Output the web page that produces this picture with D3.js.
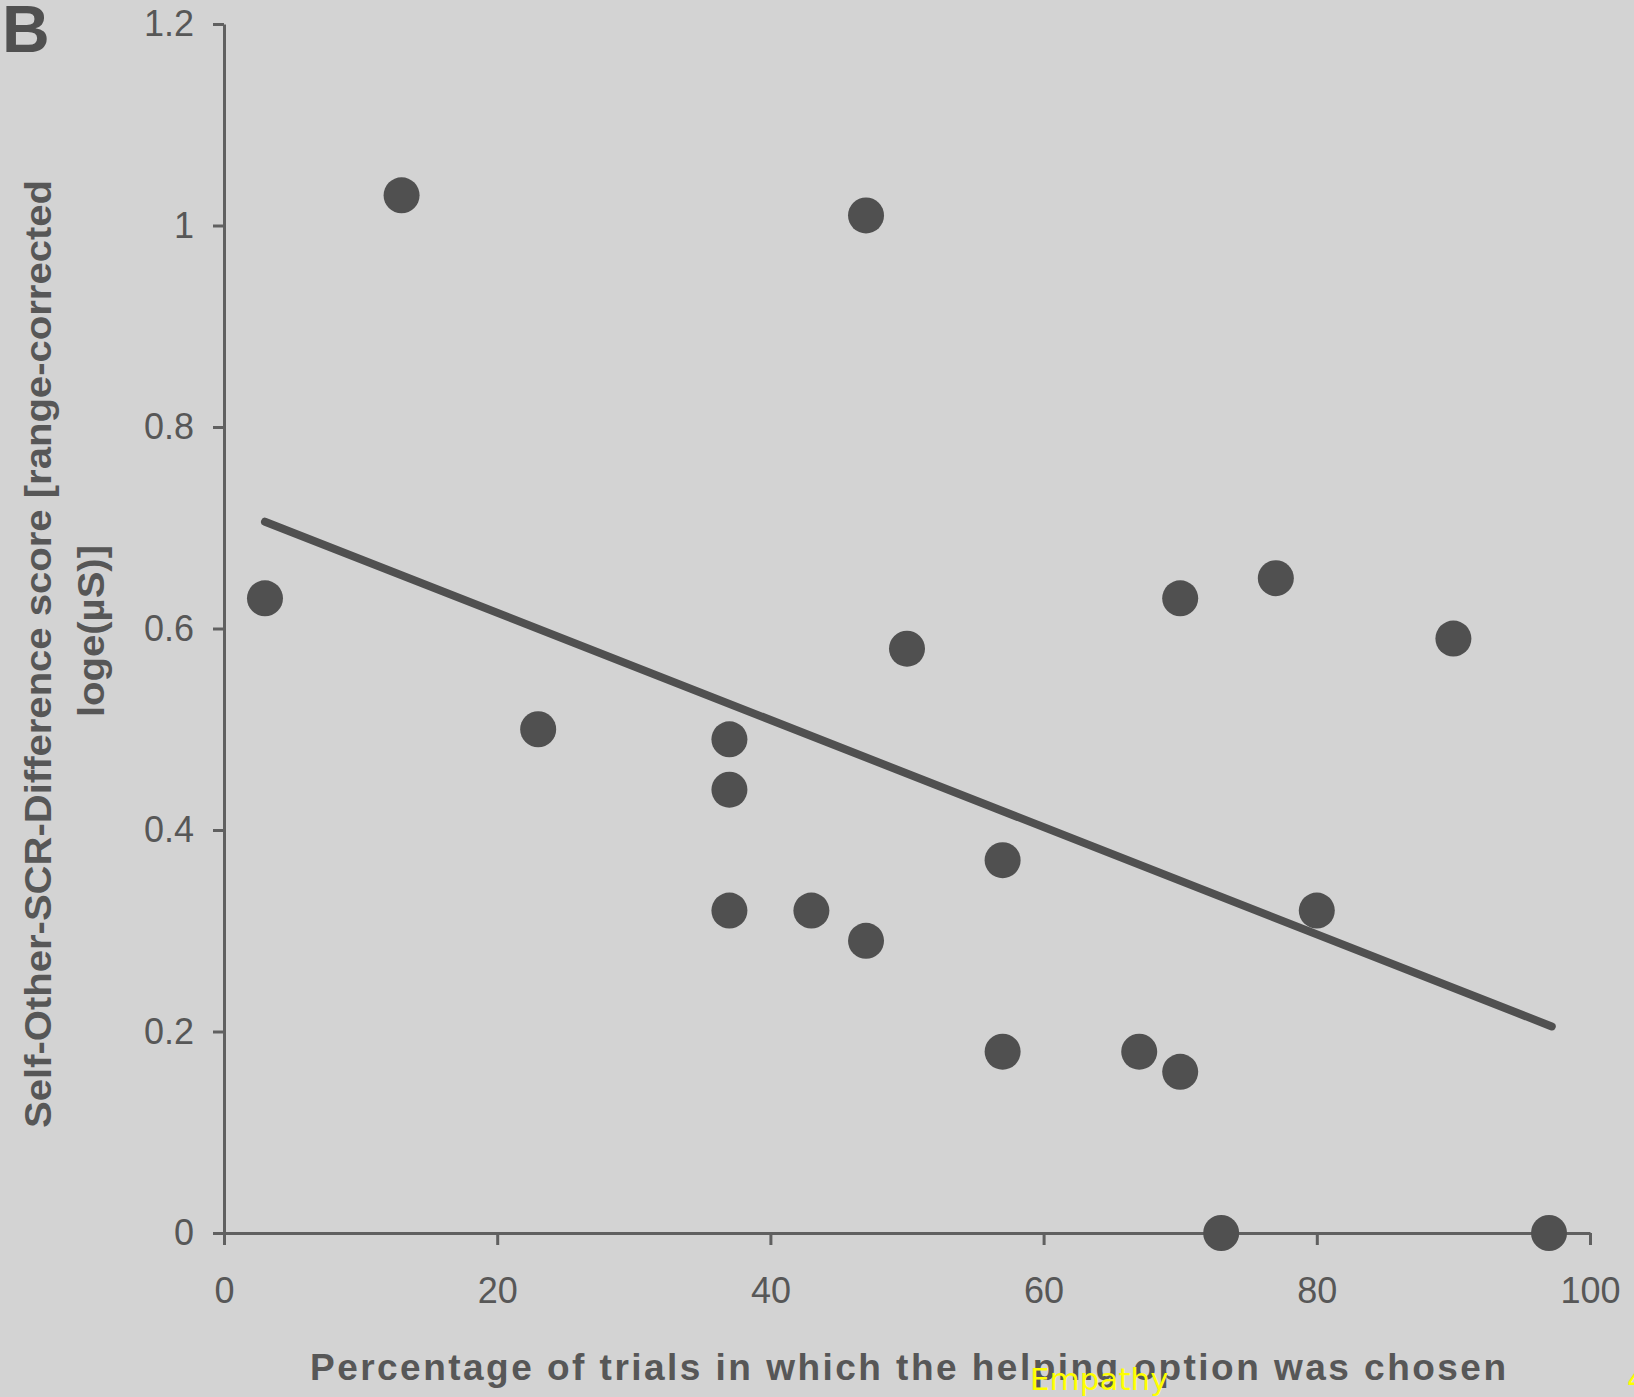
<!DOCTYPE html>
<html>
<head>
<meta charset="utf-8">
<script src="https://cdn.jsdelivr.net/npm/d3@7"></script>
<style>
  html, body { margin: 0; padding: 0; background: #d3d3d3; }
  svg { display: block; }
</style>
</head>
<body>
<script>
// data
const helpPct = [3, 13, 23, 37, 37, 37, 43, 47, 47, 50, 57, 57, 67, 70, 70, 73, 77, 80, 90, 97];
const scrDiff = [0.63, 1.03, 0.50, 0.49, 0.44, 0.32, 0.32, 1.01, 0.29, 0.58, 0.37, 0.18, 0.18, 0.16, 0.63, 0, 0.65, 0.32, 0.59, 0];

// regression line endpoints
const trendX = [3, 97.2];
const trendY = [0.706, 0.205];

const xTicks = [0, 20, 40, 60, 80, 100];
const yTicks = [0, 0.2, 0.4, 0.6, 0.8, 1, 1.2];

const width = 1634;
const height = 1397;
const ink = '#505050';
const textCol = '#575757';

const svg = d3.select('body')
  .append('svg')
  .attr('width', width)
  .attr('height', height)
  .style('background', '#d3d3d3');

const xScale = d3.scaleLinear()
  .domain([0, 100])
  .range([224, 1590]);

const yScale = d3.scaleLinear()
  .domain([0, 1.2])
  .range([1233, 24]);

// axes
const xAxis = d3.axisBottom(xScale)
  .tickValues(xTicks)
  .tickSize(12)
  .tickSizeOuter(0)
  .tickPadding(32)
  .tickFormat(d3.format('d'));

const yAxis = d3.axisLeft(yScale)
  .tickValues(yTicks)
  .tickSize(11)
  .tickSizeOuter(0)
  .tickPadding(19)
  .tickFormat(d => d === 0 || d === 1 ? String(d) : d3.format('.1f')(d));

const gx = svg.append('g')
  .attr('transform', `translate(0, ${yScale(0)})`)
  .call(xAxis);

const gy = svg.append('g')
  .attr('transform', `translate(${xScale(0)}, 0)`)
  .call(yAxis);

[gx, gy].forEach(g => {
  g.select('.domain').attr('stroke', '#606060').attr('stroke-width', 3);
  g.selectAll('.tick line').attr('stroke', '#606060').attr('stroke-width', 3);
  g.selectAll('.tick text')
    .attr('fill', textCol)
    .style('font-family', '"Liberation Sans", Arial, sans-serif')
    .style('font-size', '36px');
});

// trend line
svg.append('line')
  .attr('x1', xScale(trendX[0]))
  .attr('y1', yScale(trendY[0]))
  .attr('x2', xScale(trendX[1]))
  .attr('y2', yScale(trendY[1]))
  .attr('stroke', ink)
  .attr('stroke-width', 8)
  .attr('stroke-linecap', 'round');

// points
svg.selectAll('circle')
  .data(helpPct.map((d, i) => ({ x: d, y: scrDiff[i] })))
  .enter()
  .append('circle')
  .attr('cx', d => xScale(d.x))
  .attr('cy', d => yScale(d.y))
  .attr('r', 18)
  .style('fill', ink);

// panel letter
svg.append('text')
  .attr('x', 2)
  .attr('y', 52)
  .style('font-family', '"Liberation Sans", Arial, sans-serif')
  .style('font-weight', 'bold')
  .style('font-size', '66px')
  .attr('fill', ink)
  .text('B');

// x axis title
svg.append('text')
  .attr('x', 310)
  .attr('y', 1380)
  .attr('textLength', 1196)
  .attr('lengthAdjust', 'spacing')
  .style('font-family', '"Liberation Sans", Arial, sans-serif')
  .style('font-weight', 'bold')
  .style('font-size', '37px')
  .attr('fill', textCol)
  .text('Percentage of trials in which the helping option was chosen');

// y axis title (two lines)
const yTitle = svg.append('g')
  .style('font-family', '"Liberation Sans Narrow", "Liberation Sans", Arial, sans-serif')
  .style('font-weight', 'bold')
  .style('font-size', '37px')
  .attr('fill', textCol)
  .attr('text-anchor', 'middle');

yTitle.append('text')
  .attr('transform', 'translate(51, 654) rotate(-90)')
  .attr('textLength', 948)
  .attr('lengthAdjust', 'spacingAndGlyphs')
  .text('Self-Other-SCR-Difference score [range-corrected');

yTitle.append('text')
  .attr('transform', 'translate(104, 631) rotate(-90)')
  .attr('textLength', 172)
  .attr('lengthAdjust', 'spacingAndGlyphs')
  .text('loge(µS)]');

// yellow overlay labels
svg.append('text')
  .attr('x', 1030)
  .attr('y', 1390)
  .style('font-family', '"DejaVu Sans", sans-serif')
  .style('font-size', '31px')
  .attr('fill', '#ffff00')
  .text('Empathy');

svg.append('text')
  .attr('x', 1627)
  .attr('y', 1390)
  .style('font-family', '"DejaVu Sans", sans-serif')
  .style('font-size', '31px')
  .attr('fill', '#ffff00')
  .text('4');
</script>
</body>
</html>
